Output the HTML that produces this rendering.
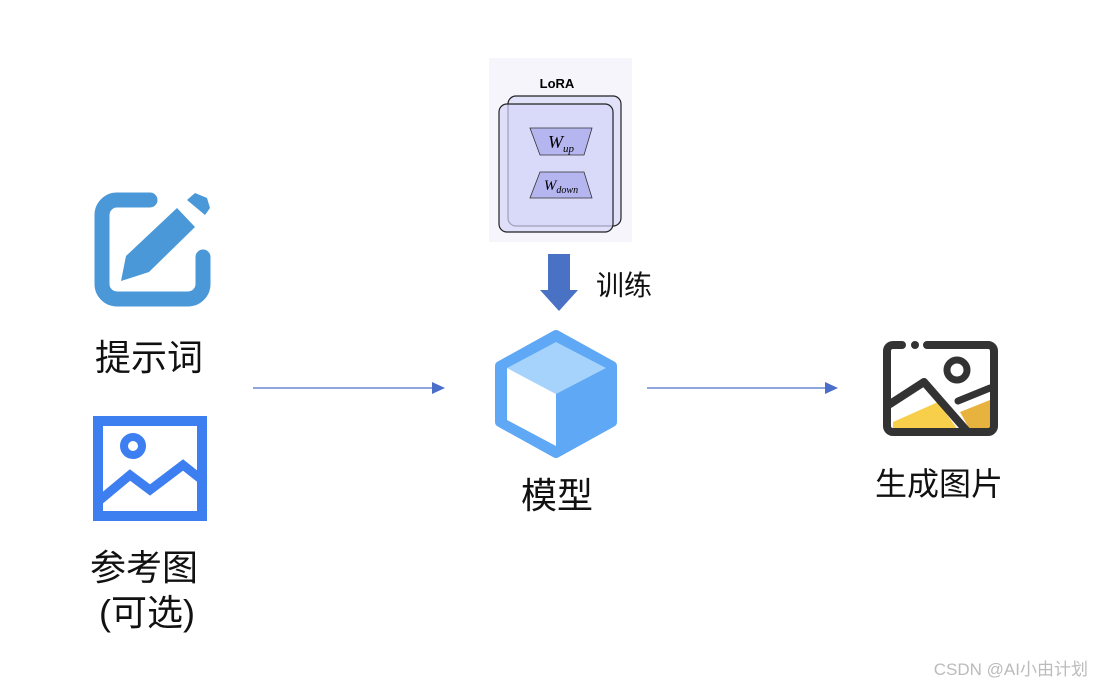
<!DOCTYPE html>
<html><head><meta charset="utf-8"><style>
html,body{margin:0;padding:0;background:#fff;}
svg{display:block;}
text{font-family:"Liberation Sans","Noto Sans CJK SC",sans-serif;}
text.m{font-family:"Liberation Serif",serif;font-style:italic;}
</style></head><body>
<svg width="1094" height="686" viewBox="0 0 1094 686" xmlns="http://www.w3.org/2000/svg">
<rect width="1094" height="686" fill="#fff"/>
<!-- LoRA panel -->
<rect x="489" y="58" width="143" height="184" fill="#f5f5fb"/>
<text x="557" y="88" font-size="13" font-weight="bold" text-anchor="middle" fill="#000">LoRA</text>
<rect x="508" y="96" width="113" height="130" rx="8" fill="#dcdcfa" fill-opacity="0.8" stroke="#222" stroke-width="1.2"/>
<rect x="499" y="104" width="114" height="128" rx="8" fill="#d6d6fa" fill-opacity="0.7" stroke="#222" stroke-width="1.2"/>
<polygon points="530,128 592,128 584,155 540,155" fill="#b5b5f0" stroke="#333" stroke-width="0.8"/>
<polygon points="540,172 584,172 592,198 530,198" fill="#b5b5f0" stroke="#333" stroke-width="0.8"/>
<text class="m" x="561" y="148" font-size="18" text-anchor="middle">W<tspan font-size="11" dy="4">up</tspan></text>
<text class="m" x="561" y="190" font-size="15" text-anchor="middle">W<tspan font-size="10" dy="3">down</tspan></text>
<!-- down arrow -->
<polygon points="548,254 570,254 570,290 578,290 559,311 540,290 548,290" fill="#4a72c4"/>
<text x="596" y="295" font-size="28" fill="#111">训练</text>
<!-- pencil icon -->
<path d="M150,200 H117 A15,15 0 0 0 102,215 V284 A15,15 0 0 0 117,299 H188 A15,15 0 0 0 203,284 V257" fill="none" stroke="#4a98d8" stroke-width="15" stroke-linecap="round"/>
<polygon points="177,208 195,227 149,272 121,281 126,256" fill="#4a98d8"/>
<polygon points="187,200 195,193 207,198 210,208 205,215" fill="#4a98d8"/>
<text x="149" y="370" font-size="36" text-anchor="middle" fill="#111">提示词</text>
<!-- picture icon blue -->
<rect x="98" y="421" width="104" height="95" fill="none" stroke="#3d7ef0" stroke-width="10"/>
<circle cx="133" cy="446" r="9" fill="none" stroke="#3d7ef0" stroke-width="8"/>
<polyline points="100,500 130,475 150,490 183,465 202,480" fill="none" stroke="#3d7ef0" stroke-width="9"/>
<text x="144" y="580" font-size="36" text-anchor="middle" fill="#111">参考图</text>
<text x="147" y="625" font-size="36" text-anchor="middle" fill="#111">(可选)</text>
<!-- arrows -->
<line x1="253" y1="388" x2="436" y2="388" stroke="#4a6fc8" stroke-width="1.2"/>
<polygon points="445,388 432,382 432,394" fill="#4a6fc8"/>
<line x1="647" y1="388" x2="829" y2="388" stroke="#4a6fc8" stroke-width="1.2"/>
<polygon points="838,388 825,382 825,394" fill="#4a6fc8"/>
<!-- cube -->
<path d="M556,335 L612,366 V422 L556,453 L500,422 V366 Z" fill="#5fa8f5" stroke="#5fa8f5" stroke-width="10" stroke-linejoin="round"/>
<polygon points="556,342 606,368 556,394 507,368" fill="#a5d3fb"/>
<polygon points="507,368 556,394 556,446 507,420" fill="#fff"/>
<text x="557" y="508" font-size="36" text-anchor="middle" fill="#111">模型</text>
<!-- output image icon -->
<polygon points="893,422 938,402 958,430 893,430" fill="#f7cf4a"/>
<polygon points="960,412 990,400 990,430 970,430" fill="#e8b23e"/>
<path d="M902,345 H893 A6,6 0 0 0 887,351 V426 A6,6 0 0 0 893,432 H988 A6,6 0 0 0 994,426 V351 A6,6 0 0 0 988,345 H927" fill="none" stroke="#333" stroke-width="8" stroke-linecap="round"/>
<circle cx="915" cy="345" r="4" fill="#333"/>
<circle cx="957" cy="370" r="10" fill="none" stroke="#333" stroke-width="7"/>
<polyline points="890,404 924,382 966,430" fill="none" stroke="#333" stroke-width="8" stroke-linecap="round" stroke-linejoin="round"/>
<line x1="958" y1="401" x2="990" y2="388" stroke="#333" stroke-width="7" stroke-linecap="round"/>
<text x="939" y="495" font-size="32" text-anchor="middle" fill="#111">生成图片</text>
<text x="1088" y="675" font-size="17" text-anchor="end" fill="#bbb">CSDN @AI小由计划</text>
</svg>
</body></html>
